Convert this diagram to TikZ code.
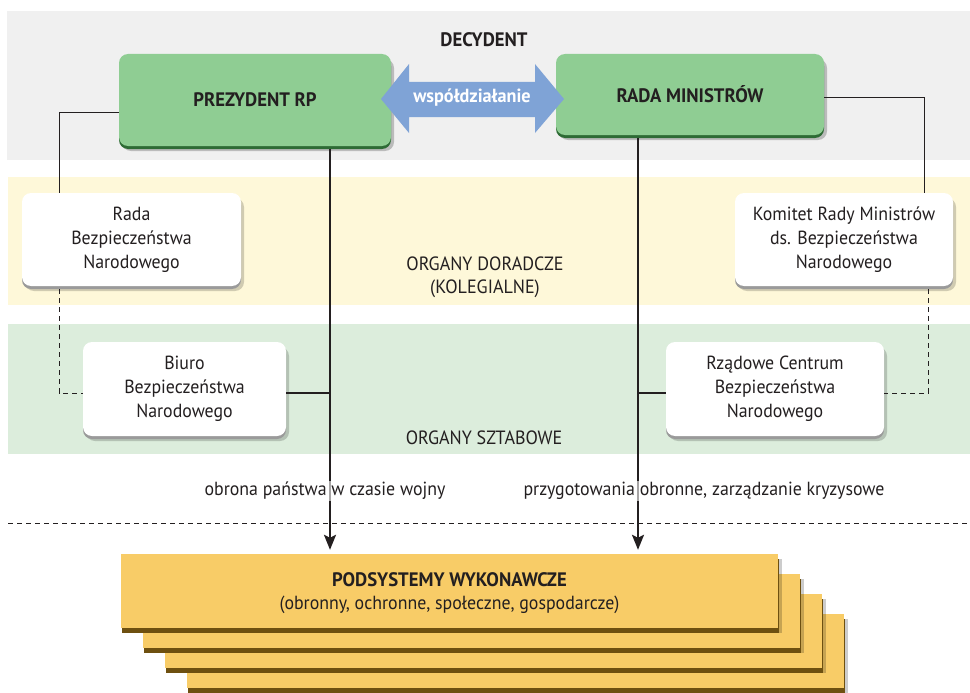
\documentclass[tikz,border=0pt]{standalone}
\usepackage{fontspec}
\setmainfont{PT Sans}[FakeStretch=0.94, BoldFeatures={FakeStretch=0.96}]
\usetikzlibrary{shadows,arrows.meta,calc}
\definecolor{bandgray}{HTML}{F0F0F0}
\definecolor{bandyellow}{HTML}{FEF8D9}
\definecolor{bandgreen}{HTML}{DCEDDC}
\definecolor{boxgreen}{HTML}{8FCD93}
\definecolor{greendark}{HTML}{2E6B35}
\definecolor{arrowblue}{HTML}{7FA3D6}
\definecolor{txt}{HTML}{231F20}
\definecolor{boxorange}{HTML}{F8CC67}
\definecolor{orangedark}{HTML}{6E5010}
\definecolor{edgegray}{HTML}{9A9A9A}
\begin{document}
\begin{tikzpicture}[x=1pt,y=-1pt,
  greenbox/.style={rectangle, rounded corners=9pt, fill=boxgreen, inner sep=0pt,
    text=txt, font=\bfseries\fontsize{19.5}{22}\selectfont,
    drop shadow={fill=black, opacity=.22, shadow xshift=3pt, shadow yshift=-5pt},
    drop shadow={fill=greendark, opacity=1, shadow xshift=0pt, shadow yshift=-3pt}},
  whitebox/.style={rectangle, rounded corners=9pt, fill=white, inner sep=0pt,
    text=txt, align=center, font=\fontsize{19}{24}\selectfont,
    drop shadow={fill=black, opacity=.18, shadow xshift=3pt, shadow yshift=-5pt},
    drop shadow={fill=edgegray, opacity=1, shadow xshift=0pt, shadow yshift=-3pt}},
  orangebox/.style={rectangle, fill=boxorange, inner sep=0pt,
    minimum width=657pt, minimum height=74pt,
    drop shadow={fill=black, opacity=.2, shadow xshift=4pt, shadow yshift=-5pt},
    drop shadow={fill=orangedark, opacity=1, shadow xshift=1pt, shadow yshift=-5pt}},
  bandlabel/.style={text=txt, align=center, font=\fontsize{19.2}{23}\selectfont},
  flowlabel/.style={text=txt, font=\fontsize{19}{21}\selectfont, fill=white, fill opacity=.6, text opacity=1, inner sep=1pt},
  conn/.style={draw=txt, line width=0.9pt},
  dconn/.style={draw=txt, line width=0.9pt, dash pattern=on 5pt off 4pt},
  mainline/.style={draw=txt, line width=2.2pt, -{Stealth[length=15pt,width=12pt,inset=3pt]}}
]
\useasboundingbox (0,0) rectangle (970,693);

% bands
\fill[bandgray] (7,11) rectangle (970,160);
\fill[bandyellow] (8,177) rectangle (970,305);
\fill[bandgreen] (8,324) rectangle (970,454);

\node[text=txt, font=\bfseries\fontsize{19.5}{22}\selectfont] (dec) at (484,40) {DECYDENT};
\node[bandlabel] (dor) at (485,277) {ORGANY DORADCZE\\(KOLEGIALNE)};
\node[bandlabel] (szt) at (484,438) {ORGANY SZTABOWE};

% coordinates for connector corners
\coordinate (lc1) at (59,112);
\coordinate (lc2) at (59,393);
\coordinate (rc1) at (924,97);
\coordinate (rc2) at (928,393);
\coordinate (vx1) at (330,393);
\coordinate (vx2) at (638,393);
\coordinate (dl1) at (8,523);
\coordinate (dl2) at (970,523);

\node[greenbox, minimum width=272pt, minimum height=92pt] (prez) at (255,100) {PREZYDENT RP};
\node[greenbox, minimum width=268pt, minimum height=81pt] (rm) at (690,94.5) {RADA MINISTRÓW};

\node[whitebox, minimum width=219pt, minimum height=93pt] (rbn) at (131.5,239.5) {Rada\\Bezpieczeństwa\\Narodowego};
\node[whitebox, minimum width=203pt, minimum height=94pt] (bbn) at (184.5,389) {Biuro\\Bezpieczeństwa\\Narodowego};
\node[whitebox, minimum width=218pt, minimum height=93pt] (krm) at (844,239.5) {Komitet Rady Ministrów\\ds. Bezpieczeństwa\\Narodowego};
\node[whitebox, minimum width=218pt, minimum height=94pt] (rcb) at (775,389) {Rządowe Centrum\\Bezpieczeństwa\\Narodowego};

\draw[conn] (prez.west |- lc1) -- (lc1) -- (rbn.north -| lc1);
\draw[dconn] ([yshift=-3pt]rbn.south -| lc2) -- (lc2) -- (bbn.west |- lc2);
\draw[conn] (rm.east |- rc1) -- (rc1) -- (krm.north -| rc1);
\draw[dconn] ([yshift=-3pt]krm.south -| rc2) -- (rc2) -- (rcb.east |- rc2);
\draw[conn, line width=1.4pt] (bbn.east |- vx1) -- (vx1);
\draw[conn, line width=1.4pt] (rcb.west |- vx2) -- (vx2);

% dashed separator
\draw[dconn, line width=0.8pt] (dl1) -- (dl2);

% stacked executive subsystems
\node[orangebox] (s4) at (515.5,651) {};
\node[orangebox] (s3) at (493.5,631) {};
\node[orangebox] (s2) at (471.5,611) {};
\node[orangebox] (pods) at (449.5,591) {};
\node[text=txt, font=\bfseries\fontsize{19.5}{22}\selectfont, inner sep=0pt] (podt) at (449.5,580) {PODSYSTEMY WYKONAWCZE};
\node[text=txt, font=\fontsize{19}{21}\selectfont, inner sep=0pt] (pods2) at (449.5,605) {(obronny, ochronne, społeczne, gospodarcze)};

% main vertical arrows
\draw[mainline, shorten >=4pt] ([yshift=-3pt]prez.south -| vx1) -- (pods.north -| vx1);
\draw[mainline, shorten >=4pt] ([yshift=-3pt]rm.south -| vx2) -- (pods.north -| vx2);

\node[flowlabel] (lab1) at (325,491) {obrona państwa w czasie wojny};
\node[flowlabel] (lab2) at (704,491) {przygotowania obronne, zarządzanie kryzysowe};

% cooperation double arrow
\fill[arrowblue] (381,99) -- (409,64) -- (409,82) -- (535,82) -- (535,64) -- (564,99)
  -- (535,133) -- (535,117) -- (409,117) -- (409,133) -- cycle;
\node[text=white, font=\bfseries\fontsize{19}{20}\selectfont] (coop) at (472,98) {współdziałanie};
\end{tikzpicture}
\end{document}
